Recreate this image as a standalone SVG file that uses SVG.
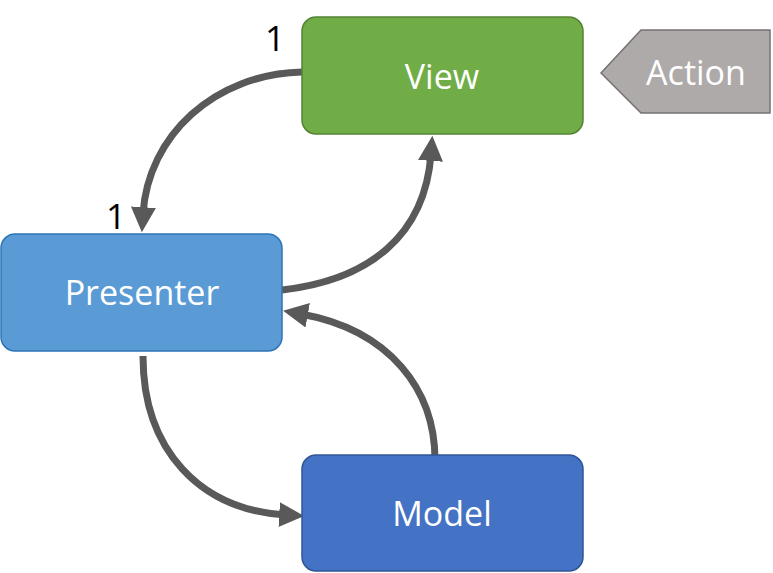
<svg xmlns="http://www.w3.org/2000/svg" width="773" height="573" viewBox="0 0 773 573">
<style>
.lbl{font-family:"Open Sans","Noto Sans","Liberation Sans",sans-serif;font-size:34px;fill:#fff;text-anchor:middle;dominant-baseline:central}
.num{font-family:"Open Sans","Noto Sans","Liberation Sans",sans-serif;font-size:35px;fill:#000;text-anchor:middle}
.conn{fill:none;stroke:#595959;stroke-width:7}
</style>
<defs>
<marker id="ah" markerUnits="userSpaceOnUse" markerWidth="25" markerHeight="25" viewBox="0 0 22 22" refX="6" refY="11" orient="auto">
<path d="M0,0 L22,11 L0,22 z" fill="#595959"/>
</marker>
</defs>
<rect width="773" height="573" fill="#fff"/>
<g id="connectors">
<path class="conn" d="M302,72 C215,74 148,135 143,214" marker-end="url(#ah)"/>
<path class="conn" d="M282,290 C370,280 425,235 431,154" marker-end="url(#ah)"/>
<path class="conn" d="M435,460 C435,390 390,330 301,314" marker-end="url(#ah)"/>
<path class="conn" d="M143,356 C143,450 200,510 286,515" marker-end="url(#ah)"/>
</g>
<g id="view">
<rect x="302" y="17" width="281" height="117" rx="14" fill="#70AD47" stroke="#548235" stroke-width="1.5"/>
<text class="lbl" x="442" y="76">View</text>
</g>
<g id="presenter">
<rect x="1" y="234" width="281" height="117" rx="14" fill="#5B9BD5" stroke="#2E75B6" stroke-width="1.5"/>
<text class="lbl" x="142" y="292">Presenter</text>
</g>
<g id="model">
<rect x="302" y="455" width="281" height="116" rx="14" fill="#4472C4" stroke="#2F5597" stroke-width="1.5"/>
<text class="lbl" x="442" y="513">Model</text>
</g>
<g id="action">
<polygon points="601,73 641,30 770,30 770,113 641,113" fill="#AEAAAA" stroke="#767171" stroke-width="1.5"/>
<text class="lbl" x="696" y="72">Action</text>
</g>
<g id="labels">
<text class="num" x="275" y="51">1</text>
<text class="num" x="116" y="229">1</text>
</g>
</svg>
